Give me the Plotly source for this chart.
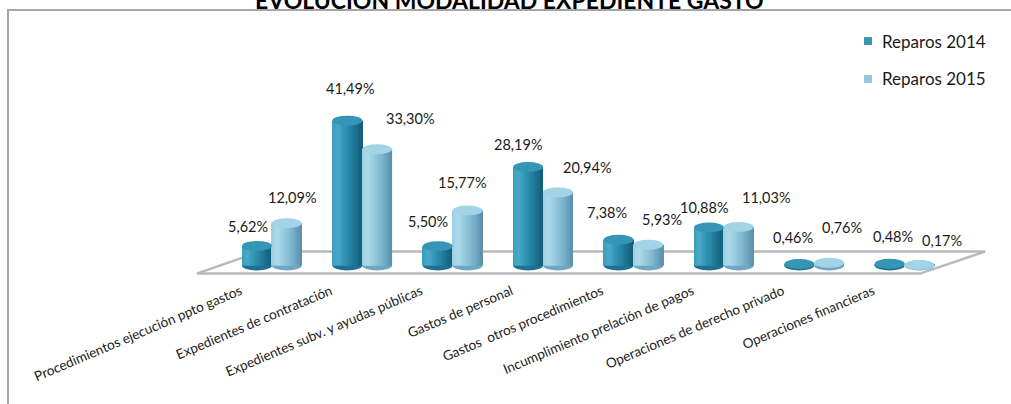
import plotly.graph_objects as go

# ---- data -------------------------------------------------------------
categories = [
    "Procedimientos ejecución ppto gastos",
    "Expedientes de contratación",
    "Expedientes subv. y ayudas públicas",
    "Gastos de personal",
    "Gastos\u00a0 otros procedimientos",
    "Incumplimiento prelación de pagos",
    "Operaciones de derecho privado",
    "Operaciones financieras",
]
reparos_2014 = [5.62, 41.49, 5.50, 28.19, 7.38, 10.88, 0.46, 0.48]
reparos_2015 = [12.09, 33.30, 15.77, 20.94, 5.93, 11.03, 0.76, 0.17]
series_names = ["Reparos 2014", "Reparos 2015"]

# ---- geometry / style -------------------------------------------------
W_FIG, H_FIG = 1011, 404
L, R, T, B = 186, 16, 56, 127.5
PW, PH = W_FIG - L - R, H_FIG - T - B
X_RANGE = [-0.95, 8.0]
Y_RANGE = [-3, 60]

FONT = "Lato, 'Open Sans', sans-serif"
TEXT_COLOR = "#1a1a1a"

BAR_W = 0.33
OFFSETS = [-0.165, 0.165]
# key colours across each cylinder body, left to right
SHADE_KEYS = [
    ["#3a9cbb", "#49aac8", "#3395b5", "#2684a5", "#1c6f8f", "#155b78"],
    ["#9ccfe3", "#addaeb", "#96cbe0", "#84bcd4", "#6ea7c2", "#5a8fa9"],
]
N_STRIPS = 24
TOP_COLORS = ["#3595b5", "#a3d3e6"]
BOTTOM_COLORS = ["#1f7090", "#6fa6c0"]
LEGEND_COLORS = ["#3a96b3", "#93c8dc"]
# pixel offsets (right, up) of each value label from its cylinder top
LABEL_NUDGE = [
    [(-9, 19), (3, 32), (-10, 25), (-10, 23), (-12, 27), (-4, 20), (-6, 26), (3, 27)],
    [(6, 26), (33, 31), (-5, 28), (30, 25), (14, 25), (28, 30), (13, 35), (22, 24)],
]


def px_x(p):
    return (p - L) / PW


def px_y(p):
    return 1 - (p - T) / PH


def fmt(v):
    return f"{v:.2f}".replace(".", ",") + "%"


def hex_rgb(h):
    h = h.lstrip("#")
    return [int(h[i:i + 2], 16) for i in (0, 2, 4)]


def blend(keys, t):
    """Colour at fraction t (0..1) along a list of key colours."""
    pos = t * (len(keys) - 1)
    j = min(int(pos), len(keys) - 2)
    f = pos - j
    a, b = hex_rgb(keys[j]), hex_rgb(keys[j + 1])
    c = [round(a[m] + (b[m] - a[m]) * f) for m in range(3)]
    return f"rgb({c[0]},{c[1]},{c[2]})"


idx = list(range(len(categories)))
series = [reparos_2014, reparos_2015]

fig = go.Figure()
shapes = []
annotations = []

# floor slab under the cylinders
shapes.append(dict(
    type="path", xref="x", yref="y", layer="below",
    path="M -0.83,-2.3 L -0.13,4 L 7.89,4 L 7.17,-2.3 Z",
    fillcolor="white",
    line=dict(color="#b9b9b9", width=2.5),
))

for s, (vals, name) in enumerate(zip(series, series_names)):
    sw = BAR_W / N_STRIPS
    left = OFFSETS[s] - BAR_W / 2
    for k in range(N_STRIPS):
        col = blend(SHADE_KEYS[s], (k + 0.5) / N_STRIPS)
        w = sw * (1.6 if k < N_STRIPS - 1 else 1.0)
        fig.add_trace(go.Bar(
            x=idx, y=vals, base=0,
            offset=left + k * sw, width=w,
            marker=dict(color=col, line=dict(width=0)),
            showlegend=False, hoverinfo="skip", name=name,
        ))
    for i, v in zip(idx, vals):
        x0 = i + OFFSETS[s] - BAR_W / 2
        x1 = i + OFFSETS[s] + BAR_W / 2
        # rounded bottom of the cylinder
        shapes.append(dict(
            type="circle", xref="x", yref="y", layer="below",
            x0=x0, x1=x1, ysizemode="pixel", yanchor=0, y0=-5, y1=5,
            fillcolor=BOTTOM_COLORS[s], line=dict(width=0),
        ))
        # cylinder top
        shapes.append(dict(
            type="circle", xref="x", yref="y", layer="above",
            x0=x0, x1=x1, ysizemode="pixel", yanchor=v, y0=-5, y1=5,
            fillcolor=TOP_COLORS[s], line=dict(width=0),
        ))
        dx, dy = LABEL_NUDGE[s][i]
        annotations.append(dict(
            x=i + OFFSETS[s], y=v, xref="x", yref="y",
            text=fmt(v), showarrow=False, xshift=dx, yshift=dy,
            xanchor="center", yanchor="middle",
            font=dict(family=FONT, size=14.5, color=TEXT_COLOR),
        ))

# legend
for s, name in enumerate(series_names):
    cy = 41 + 38 * s
    shapes.append(dict(
        type="rect", xref="paper", yref="paper",
        x0=px_x(864), x1=px_x(872), y0=px_y(cy + 4), y1=px_y(cy - 4),
        fillcolor=LEGEND_COLORS[s], line=dict(width=0),
    ))
    annotations.append(dict(
        x=px_x(880), y=px_y(cy), xref="paper", yref="paper",
        text=name, showarrow=False, xanchor="left", yanchor="middle",
        font=dict(family=FONT, size=17, color=TEXT_COLOR),
    ))

# chart border
shapes.append(dict(
    type="rect", xref="paper", yref="paper",
    x0=px_x(8), x1=px_x(1030), y0=px_y(10), y1=px_y(430),
    line=dict(color="#a6a6a6", width=2), fillcolor="rgba(0,0,0,0)",
))

# title (top edge of the canvas)
annotations.append(dict(
    x=px_x(509), y=px_y(0), xref="paper", yref="paper",
    text="<b>EVOLUCIÓN MODALIDAD EXPEDIENTE GASTO</b>", showarrow=False,
    xanchor="center", yanchor="middle",
    font=dict(family=FONT, size=23, color="#000000"),
))

fig.update_layout(
    template="none",
    width=W_FIG, height=H_FIG,
    margin=dict(l=L, r=R, t=T, b=B, pad=0),
    barmode="overlay",
    paper_bgcolor="white", plot_bgcolor="rgba(0,0,0,0)",
    showlegend=False,
    shapes=shapes, annotations=annotations,
    font=dict(family=FONT, color=TEXT_COLOR),
    xaxis=dict(
        range=X_RANGE, showgrid=False, zeroline=False, showline=False,
        tickmode="array", tickvals=[i - 0.35 for i in idx], ticktext=categories,
        tickangle=-23, ticks="", automargin=False, ticklabelstandoff=4,
        tickfont=dict(family=FONT, size=13.5, color=TEXT_COLOR),
    ),
    yaxis=dict(
        range=Y_RANGE, showgrid=False, zeroline=False, showline=False,
        showticklabels=False, ticks="", automargin=False,
    ),
)

fig.write_html("out.html")
